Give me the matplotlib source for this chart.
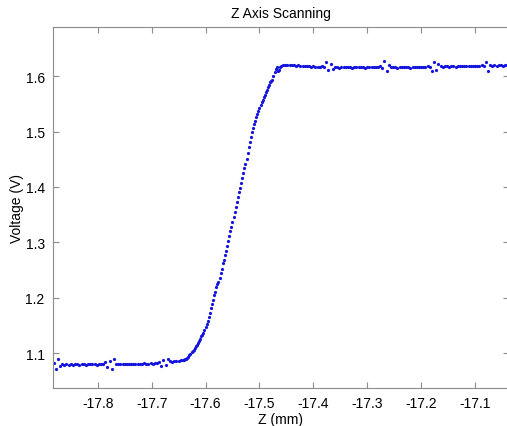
import numpy as np
from matplotlib import pyplot as plt

plt.rcParams['font.family'] = ['Liberation Sans', 'DejaVu Sans']

# baseline, z = -17.882 ... -17.642 (step 0.004)
z_low = np.arange(61) * 0.004 - 17.882
v_low = [1.082, 1.072, 1.089, 1.077, 1.081, 1.079, 1.080, 1.079, 1.080, 1.079,
         1.080, 1.081, 1.079, 1.080, 1.080, 1.079, 1.081, 1.080, 1.080, 1.081,
         1.079, 1.080, 1.081, 1.080, 1.083, 1.074, 1.086, 1.071, 1.090, 1.081,
         1.080, 1.081, 1.080, 1.081, 1.080, 1.081, 1.081, 1.080, 1.081, 1.081,
         1.080, 1.081, 1.082, 1.081, 1.081, 1.082, 1.081, 1.082, 1.082, 1.083,
         1.076, 1.088, 1.078, 1.089, 1.086, 1.084, 1.085, 1.085, 1.086, 1.087,
         1.087]

# rising edge, z = -17.640 ... -17.460 (step 0.002)
z_rise = np.arange(91) * 0.002 - 17.640
v_rise = [1.088, 1.089, 1.090, 1.091, 1.093, 1.096, 1.099, 1.101, 1.104, 1.106,
          1.109, 1.112, 1.115, 1.118, 1.122, 1.126, 1.130, 1.133, 1.137, 1.142,
          1.147, 1.152, 1.158, 1.165, 1.173, 1.181, 1.188, 1.196, 1.204, 1.211,
          1.219, 1.224, 1.229, 1.236, 1.244, 1.251, 1.262, 1.268, 1.277, 1.285,
          1.293, 1.302, 1.311, 1.320, 1.328, 1.337, 1.346, 1.354, 1.363, 1.372,
          1.381, 1.390, 1.399, 1.408, 1.417, 1.425, 1.434, 1.442, 1.450, 1.462,
          1.472, 1.482, 1.491, 1.500, 1.507, 1.514, 1.520, 1.526, 1.532, 1.538,
          1.543, 1.548, 1.553, 1.558, 1.562, 1.567, 1.572, 1.576, 1.580, 1.585,
          1.589, 1.592, 1.593, 1.600, 1.607, 1.614, 1.617, 1.610, 1.612, 1.616,
          1.618]

# plateau, z = -17.456 ... -17.040 (step 0.004)
z_high = np.arange(105) * 0.004 - 17.456
v_high = [1.620, 1.621, 1.621, 1.620, 1.621, 1.620, 1.619, 1.620, 1.619, 1.619,
          1.618, 1.619, 1.618, 1.617, 1.618, 1.617, 1.617, 1.616, 1.618, 1.617,
          1.626, 1.611, 1.622, 1.613, 1.616, 1.616, 1.615, 1.616, 1.616, 1.617,
          1.616, 1.616, 1.615, 1.616, 1.616, 1.617, 1.616, 1.616, 1.615, 1.616,
          1.616, 1.617, 1.616, 1.616, 1.617, 1.618, 1.615, 1.627, 1.609, 1.620,
          1.617, 1.616, 1.616, 1.615, 1.616, 1.616, 1.617, 1.616, 1.616, 1.615,
          1.616, 1.616, 1.617, 1.616, 1.616, 1.617, 1.617, 1.618, 1.617, 1.610,
          1.625, 1.612, 1.622, 1.618, 1.617, 1.618, 1.618, 1.617, 1.618, 1.618,
          1.617, 1.618, 1.618, 1.619, 1.618, 1.618, 1.619, 1.618, 1.619, 1.618,
          1.619, 1.619, 1.620, 1.619, 1.626, 1.609, 1.621, 1.619, 1.620, 1.619,
          1.620, 1.620, 1.619, 1.620, 1.620]

z = np.concatenate([z_low, z_rise, z_high])
v = np.concatenate([v_low, v_rise, v_high])

fig = plt.figure(figsize=(5.07, 4.27), dpi=100)
ax = fig.add_axes([53 / 507, 38 / 427, 456 / 507, 361 / 427])
ax.plot(z, v, '.', color='#1414dc', markersize=2.6)

ax.set_xlim(-17.883, -17.037)
ax.set_ylim(1.0368, 1.689)
ax.set_xticks([-17.8, -17.7, -17.6, -17.5, -17.4, -17.3, -17.2, -17.1])
ax.set_yticks([1.1, 1.2, 1.3, 1.4, 1.5, 1.6])
ax.set_xticklabels(['-17.8', '-17.7', '-17.6', '-17.5', '-17.4', '-17.3', '-17.2', '-17.1'])

for s in ax.spines.values():
    s.set_color('#8c8c8c')
ax.tick_params(direction='in', length=4, color='#8c8c8c', labelsize=10,
               top=True, right=True, pad=6)
ax.set_title('Z Axis Scanning', fontsize=10, pad=7)
ax.set_xlabel('Z (mm)', fontsize=10, labelpad=1)
ax.set_ylabel('Voltage (V)', fontsize=10, labelpad=1)

fig.savefig('out.png', dpi=100)
